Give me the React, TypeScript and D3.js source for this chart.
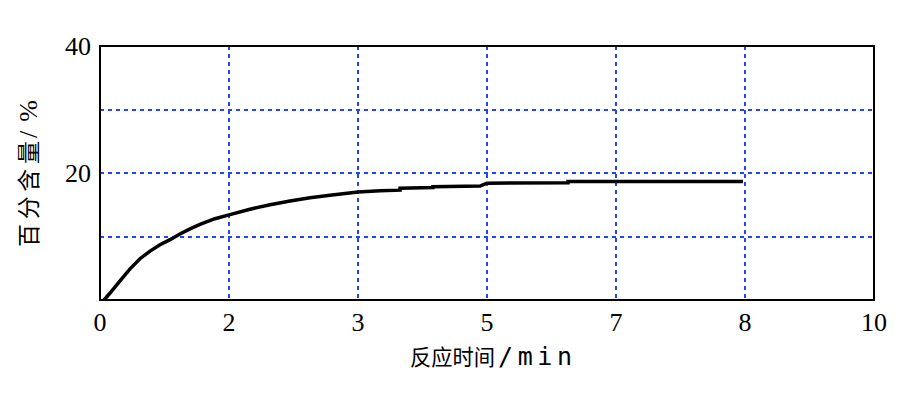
import React from "react";
import * as d3 from "d3";

// x tick labels (evenly spaced positions, as printed on the chart)
const xTickLabels = ["0", "2", "3", "5", "7", "8", "10"];
// y tick labels and grid values
const yTickLabels = [20, 40];
const yGridValues = [10, 20, 30];
const xGridIndices = [1, 2, 3, 4, 5];

// curve: x in tick-position units, y in %
const curveX = [
  0.031, 0.078, 0.155, 0.233, 0.31, 0.388, 0.465, 0.543, 0.62, 0.698, 0.775,
  0.891, 1.0, 1.163, 1.318, 1.473, 1.628, 1.783, 2.0, 2.171, 2.326, 2.326,
  2.581, 2.581, 2.946, 2.977, 3.0, 3.628, 3.628, 4.984,
];
const curveY = [
  0, 1.1, 3.0, 4.9, 6.5, 7.7, 8.7, 9.5, 10.4, 11.2, 11.9, 12.8, 13.4, 14.3,
  15.0, 15.6, 16.1, 16.5, 17.0, 17.2, 17.3, 17.6, 17.7, 17.85, 17.95, 18.2,
  18.4, 18.45, 18.65, 18.65,
];

const W = 900;
const H = 413;
const M = { left: 100, right: 874, top: 46, bottom: 300 };

export default function App() {
  const x = d3.scaleLinear().domain([0, xTickLabels.length - 1]).range([M.left, M.right]);
  const y = d3.scaleLinear().domain([0, 40]).range([M.bottom, M.top]);
  const pts: [number, number][] = curveX.map((v, i) => [v, curveY[i]]);
  const line = d3
    .line<[number, number]>()
    .x((d) => x(d[0]))
    .y((d) => y(d[1]))
    .curve(d3.curveLinear);
  const gridColor = "#2444f8";
  const serif = "'Liberation Serif', 'DejaVu Serif', serif";
  const cjk = "'Noto Sans CJK SC', sans-serif";
  const mono = "'DejaVu Sans Mono', 'Liberation Mono', monospace";
  return (
    <svg
      width={W}
      height={H}
      style={{ position: "absolute", left: 0, top: 0, background: "#fff" }}
    >
      <rect x={0} y={0} width={W} height={H} fill="#fff" />
      {yGridValues.map((v) => (
        <line
          key={"yg" + v}
          x1={M.left}
          x2={M.right}
          y1={Math.round(y(v))}
          y2={Math.round(y(v))}
          stroke={gridColor}
          strokeWidth={2}
          strokeDasharray="4,4"
        />
      ))}
      {xGridIndices.map((i) => (
        <line
          key={"xg" + i}
          x1={Math.round(x(i))}
          x2={Math.round(x(i))}
          y1={M.top}
          y2={M.bottom}
          stroke={gridColor}
          strokeWidth={2}
          strokeDasharray="4,4"
        />
      ))}
      <path d={line(pts) || ""} fill="none" stroke="#000" strokeWidth={3.5} />
      <rect
        x={M.left}
        y={M.top}
        width={M.right - M.left}
        height={M.bottom - M.top}
        fill="none"
        stroke="#000"
        strokeWidth={2}
      />
      {xTickLabels.map((t, i) => (
        <text
          key={"xt" + i}
          x={x(i)}
          y={331}
          textAnchor="middle"
          fontFamily={serif}
          fontSize={26}
          fill="#000"
        >
          {t}
        </text>
      ))}
      {yTickLabels.map((v) => (
        <text
          key={"yt" + v}
          x={91}
          y={y(v) + 9}
          textAnchor="end"
          fontFamily={serif}
          fontSize={26}
          fill="#000"
        >
          {v}
        </text>
      ))}
      <text x={410} y={365} fontFamily={cjk} fontSize={22} textLength={85} lengthAdjust="spacingAndGlyphs" fill="#000">
        反应时间
      </text>
      <text x={498} y={365} fontFamily={mono} fontSize={25} textLength={74} lengthAdjust="spacing" fill="#000">
        /min
      </text>
      <g transform="translate(37,247) rotate(-90)">
        <text x={0} y={0} fontFamily={cjk} fontSize={23} textLength={106} lengthAdjust="spacing" fill="#000">
          百分含量
        </text>
        <text x={109} y={0} fontFamily={serif} fontSize={26} textLength={38} lengthAdjust="spacing" fill="#000">
          /%
        </text>
      </g>
    </svg>
  );
}
